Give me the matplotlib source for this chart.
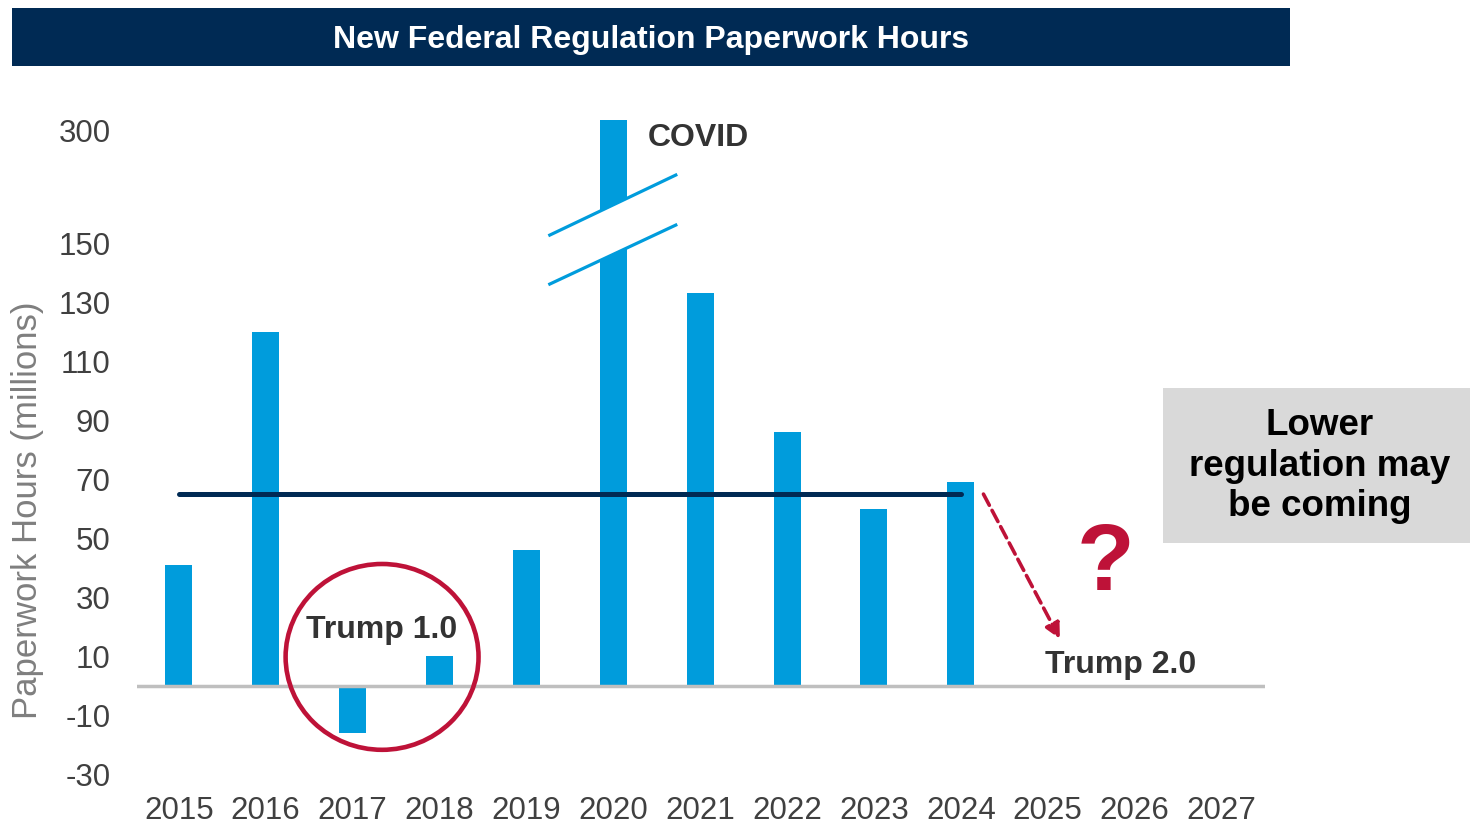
import numpy as np
import matplotlib.pyplot as plt
from matplotlib.patches import Ellipse, Rectangle, Polygon

plt.rcParams['font.family'] = ['Liberation Sans', 'DejaVu Sans']

years = ['2015', '2016', '2017', '2018', '2019', '2020', '2021',
         '2022', '2023', '2024', '2025', '2026', '2027']
hours = [41, 120, -16, 10, 46, 313, 133, 86, 60, 69]   # 2015-2024, millions
avg_level = 65
yticks = [-30, -10, 10, 30, 50, 70, 90, 110, 130, 150, 300]

BLUE = '#009CDC'
NAVY = '#002A54'
RED = '#BE1238'
DARK = '#333333'

# squeeze everything above 150 so the 2020 spike fits on the axis
BREAK = 150
SQUEEZE = 0.2554


def fwd(v):
    v = np.asarray(v, dtype=float)
    return np.where(v <= BREAK, v, BREAK + (v - BREAK) * SQUEEZE)


def inv(v):
    v = np.asarray(v, dtype=float)
    return np.where(v <= BREAK, v, BREAK + (v - BREAK) / SQUEEZE)


fig = plt.figure(figsize=(14.7, 8.25), dpi=100)
ax = fig.add_axes([137 / 1470, 1 - 774 / 825, 1128 / 1470, 659 / 825])
ax.set_yscale('function', functions=(fwd, inv))
ax.set_xlim(-0.48, 12.5)
ax.set_ylim(-30, 320)

x = np.arange(len(hours))
ax.bar(x, hours, width=0.31, color=BLUE, zorder=2)
ax.axhline(0, color='#BFBFBF', lw=2.5, zorder=3)
ax.plot([0, 9], [avg_level, avg_level], color=NAVY, lw=3.6,
        solid_capstyle='round', zorder=4)

# axis break on the 2020 bar
brk1 = ([4.27, 5.72], [160.6, 240.3])
brk2 = ([4.27, 5.72], [136.1, 173.9])
ax.add_patch(Polygon([(brk1[0][0], brk1[1][0]), (brk1[0][1], brk1[1][1]),
                      (brk2[0][1], brk2[1][1]), (brk2[0][0], brk2[1][0])],
                     closed=True, fc='white', ec='none', zorder=3))
ax.plot(*brk1, color=BLUE, lw=2.3, zorder=4)
ax.plot(*brk2, color=BLUE, lw=2.3, zorder=4)

ax.text(5.40, 279, 'COVID', fontsize=23, fontweight='bold', color=DARK,
        ha='left', va='baseline')

# first term circle
ax.add_patch(Ellipse((2.34, 9.7), width=2.22, height=63, fill=False,
                     ec=RED, lw=3.3, zorder=5))
ax.text(2.33, 16.1, 'Trump 1.0', fontsize=23, fontweight='bold', color=DARK,
        ha='center', va='baseline', zorder=6)

# where things may head next
ax.annotate('', xy=(10.14, 15.8), xytext=(9.26, 64.9),
            arrowprops=dict(arrowstyle='-|>,head_length=0.9,head_width=0.45',
                            color=RED, lw=2.6, linestyle=(0, (3.5, 1.6)),
                            shrinkA=0, shrinkB=0))
ax.text(10.66, 32.4, '?', fontsize=68, fontweight='bold', color=RED,
        ha='center', va='baseline')
ax.text(9.965, 4.2, 'Trump 2.0', fontsize=23, fontweight='bold', color=DARK,
        ha='left', va='baseline')

ax.set_yticks(yticks)
ax.set_yticklabels([str(t) for t in yticks])
ax.set_xticks(range(len(years)))
ax.set_xticklabels(years)
ax.tick_params(axis='y', length=0, pad=19, labelsize=22.5, labelcolor='#404040')
ax.tick_params(axis='x', length=0, pad=16, labelsize=22.5, labelcolor='#404040')
ax.minorticks_off()
for s in ax.spines.values():
    s.set_visible(False)

# title banner
fig.patches.append(Rectangle((12 / 1470, 1 - 66 / 825), 1278 / 1470, 58 / 825,
                             transform=fig.transFigure, fc=NAVY, ec='none'))
fig.text(651 / 1470, 1 - 40 / 825, 'New Federal Regulation Paperwork Hours',
         color='white', fontsize=23, fontweight='bold', ha='center', va='center')

fig.text(28 / 1470, 1 - 510 / 825, 'Paperwork Hours (millions)', rotation=90,
         fontsize=25, color='#7F7F7F', ha='center', va='center')

# side note
fig.patches.append(Rectangle((1163 / 1470, 1 - 543 / 825), 307 / 1470, 155 / 825,
                             transform=fig.transFigure, fc='#D9D9D9', ec='none'))
fig.text(1320 / 1470, 1 - 466 / 825, 'Lower\nregulation may\nbe coming',
         fontsize=26.5, fontweight='bold', color='black', ha='center',
         va='center', multialignment='center', linespacing=1.2)

fig.savefig('out.png', dpi=100)
